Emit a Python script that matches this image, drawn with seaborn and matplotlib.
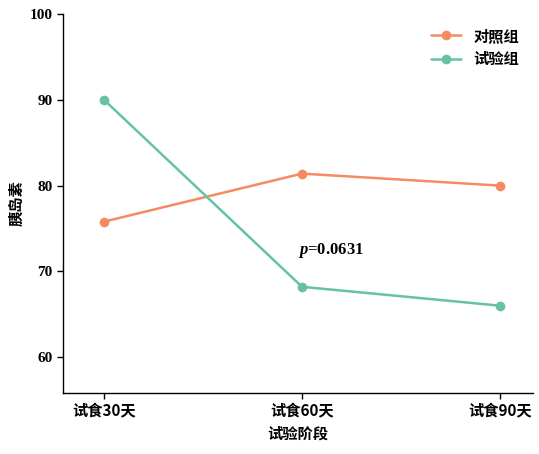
import matplotlib
matplotlib.use("Agg")
import matplotlib.pyplot as plt
import seaborn as sns
import pandas as pd

stages = ["试食30天", "试食60天", "试食90天"]
control = [75.8, 81.4, 80.0]
test = [90.0, 68.2, 66.0]
groups = ["对照组", "试验组"]

sns.set_style("ticks")
plt.rcParams['font.family'] = ['Liberation Serif', 'Noto Sans CJK SC', 'DejaVu Sans']
plt.rcParams['mathtext.fontset'] = 'custom'
plt.rcParams['mathtext.bf'] = 'Liberation Serif:bold:italic'
plt.rcParams['text.color'] = 'black'
plt.rcParams['axes.labelcolor'] = 'black'
plt.rcParams['xtick.color'] = 'black'
plt.rcParams['ytick.color'] = 'black'
plt.rcParams['axes.edgecolor'] = 'black'

df = pd.DataFrame({
    "stage": stages * 2,
    "x": [0, 1, 2] * 2,
    "val": control + test,
    "group": [groups[0]] * 3 + [groups[1]] * 3,
})

fig = plt.figure(figsize=(5.39, 4.54), dpi=100)
ax = fig.add_axes([0.117, 0.134, 0.872, 0.835])
sns.lineplot(data=df, x="x", y="val", hue="group", palette=["#f58b62", "#66c2a5"],
             marker="o", markersize=7, markeredgewidth=0, linewidth=1.8, ax=ax)
ax.set_xlim(-0.207, 2.167)
ax.set_ylim(55.8, 100)
ax.set_yticks([60, 70, 80, 90, 100])
ax.set_xticks([0, 1, 2])
ax.set_xticklabels(stages, family=['Noto Sans CJK SC'], fontweight='bold', fontsize=11)
for t in ax.get_yticklabels():
    t.set_fontweight('bold'); t.set_fontsize(11)
ax.set_xlabel("试验阶段", family=['Noto Sans CJK SC'], fontweight='bold', fontsize=11)
ax.set_ylabel("胰岛素", family=['Noto Sans CJK SC'], fontweight='bold', fontsize=11)
sns.despine(ax=ax)
ax.tick_params(direction='out', length=4, width=1)
for s in ax.spines.values():
    s.set_linewidth(1)
ax.text(0.98, 72.4, "$\\mathbf{p}$=0.0631", fontweight='bold', fontsize=12, ha='left', va='center')
leg = ax.legend(frameon=False, loc='upper right', prop={'family': 'Noto Sans CJK SC', 'weight': 'bold', 'size': 11})
fig.savefig("out.png")
